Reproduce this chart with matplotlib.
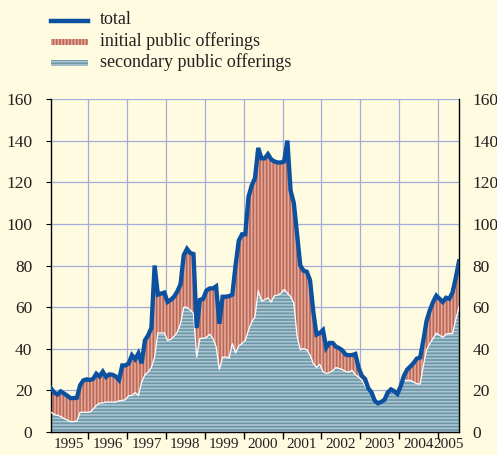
import numpy as np
import matplotlib
matplotlib.use("Agg")
import matplotlib.pyplot as plt
from matplotlib.patches import Rectangle
from matplotlib.lines import Line2D

plt.rcParams['font.family'] = ['Liberation Serif', 'DejaVu Serif']
plt.rcParams['hatch.linewidth'] = 1.2

# monthly, Jan 1995 - Jul 2005
months = 1995 + (np.arange(127) + 0.5) / 12

total = [21, 19, 18, 19.5, 18.5, 17.5, 16.3, 16.3, 16.5, 22.5, 24.8, 25.3,
         25, 25.5, 28, 26.7, 29, 26.5, 27.7, 27.5, 26.7, 25, 32, 32,
         33, 36.9, 35, 37.8, 33, 44, 46.5, 50, 80, 66, 66.5, 67,
         62.5, 63.5, 65, 67.5, 71, 85, 88, 86, 85.5, 50, 63.5, 64,
         68, 69, 69, 70, 52, 65, 65, 65.3, 66, 80, 92, 95,
         95, 113, 118.5, 122, 136.5, 131.5, 131.5, 133.5, 131, 130, 129.5, 129.5,
         130, 140, 116, 110, 95, 80, 77.5, 77, 73, 58, 46.8, 47.5,
         49, 40.5, 42.8, 42.8, 41, 40.3, 39.2, 37.2, 36.9, 37, 37.5, 31,
         27, 25.5, 21, 19, 15, 13.8, 14.5, 15.5, 19, 20.5, 19.6, 18.3,
         22, 27, 30, 31.5, 33.2, 35.3, 35.8, 44, 53.5, 58.5, 62.5, 65.5,
         64, 62.5, 64.5, 64, 67, 74, 82]

secondary = [9.5, 8.5, 8, 7.5, 6.5, 5.8, 5, 5, 5.2, 9.5, 9.5, 9.5,
             9.5, 11, 12.8, 13.9, 14, 14.4, 14.4, 14.4, 14.4, 15, 15.2, 15.5,
             17.5, 17.5, 19, 17.5, 24, 27.5, 28.8, 31, 36, 47.6, 47.6, 47.6,
             44, 44.5, 46, 48, 52, 59.9, 59.9, 58.6, 57, 36, 45, 45,
             45.5, 47, 45, 41, 30, 36, 36, 35.6, 42.5, 38, 41.5, 42.5,
             44, 49, 53, 55.3, 68, 63, 63.5, 64.5, 62.4, 65.5, 65.8, 66.6,
             68.5, 66.8, 65, 62, 46, 39.5, 40.1, 39.5, 37, 33, 31, 32.5,
             29, 28.2, 28.5, 29.5, 31, 30.5, 30, 29, 28.8, 29.6, 27.5, 26.4,
             25, 22, 20.5, 18.5, 14.8, 13.5, 14.2, 15.2, 18.7, 20.2, 19.3, 18,
             21.5, 24.8, 24.8, 24.8, 24, 23.2, 23, 32, 39.5, 42.5, 45, 47.5,
             46.5, 45.5, 47, 47.3, 47.3, 54, 60]

years = list(range(1995, 2006))
year_label_pos = [y + 0.5 for y in years[:-1]] + [2005.27]
yticks = list(range(0, 161, 20))

bg = '#FEFBE0'
grid_c = '#A4ACDC'
blue = '#0B51A0'
red_face, red_hatch = '#BA6758', '#E4A898'
sec_face, sec_hatch = '#6A96A8', '#ABC6D0'
txt = '#231F20'

fig = plt.figure(figsize=(4.97, 4.55), dpi=100, facecolor=bg)
ax = fig.add_axes([0.1026, 0.0505, 0.8209, 0.7319])
ax.set_facecolor(bg)

ax.fill_between(months, 0, secondary, facecolor=sec_face, edgecolor=sec_hatch,
                hatch='-----', linewidth=0, zorder=2)
ax.fill_between(months, secondary, total, facecolor=red_face, edgecolor=red_hatch,
                hatch='|||||', linewidth=0, zorder=2)
ax.plot(months, secondary, color='white', lw=0.9, zorder=3)
ax.plot(months, total, color=blue, lw=3.1, zorder=4, solid_joinstyle='miter')

ax.set_xlim(months[0], months[-1])
ax.set_ylim(0, 160)
ax.set_yticks(yticks)
ax.set_xticks(years[1:])
ax.set_xticklabels([])
ax.set_xticks(year_label_pos, minor=True)
ax.set_xticklabels([str(y) for y in years], minor=True)
ax.grid(True, color=grid_c, lw=0.9, zorder=1)
ax.set_axisbelow(True)

ax.tick_params(axis='y', left=False, labelsize=12.5, labelcolor=txt, pad=10)
ax.tick_params(axis='x', which='major', direction='out', length=5, width=1, color='black')
ax.tick_params(axis='x', which='minor', length=0, labelsize=11, labelcolor=txt, pad=4.5)

for s in ['left', 'right', 'bottom']:
    ax.spines[s].set_color('black')
    ax.spines[s].set_linewidth(1)
ax.spines['top'].set_visible(False)

# right-hand scale
ax2 = ax.twinx()
ax2.set_ylim(0, 160)
ax2.set_yticks(yticks)
ax2.tick_params(axis='y', right=False, labelsize=12.5, labelcolor=txt, pad=6)
for s in ax2.spines.values():
    s.set_visible(False)

# legend drawn by hand
W, H = 497, 455
def fx(px):
    return px / W
def fy(py):
    return 1 - py / H

fig.add_artist(Line2D([fx(51), fx(88)], [fy(21), fy(21)], color=blue, lw=3.2))
fig.add_artist(Rectangle((fx(51), fy(45)), fx(37), 6 / H, facecolor=red_face,
                         edgecolor=red_hatch, hatch='|||||', linewidth=0))
fig.add_artist(Rectangle((fx(51), fy(66)), fx(37), 6 / H, facecolor=sec_face,
                         edgecolor=sec_hatch, hatch='-----', linewidth=0))
for py, s in [(20, 'total'), (41, 'initial public offerings'), (62, 'secondary public offerings')]:
    fig.text(fx(100), fy(py), s, fontsize=13, color=txt, va='center', ha='left')

fig.savefig('out.png', dpi=100, facecolor=bg)
